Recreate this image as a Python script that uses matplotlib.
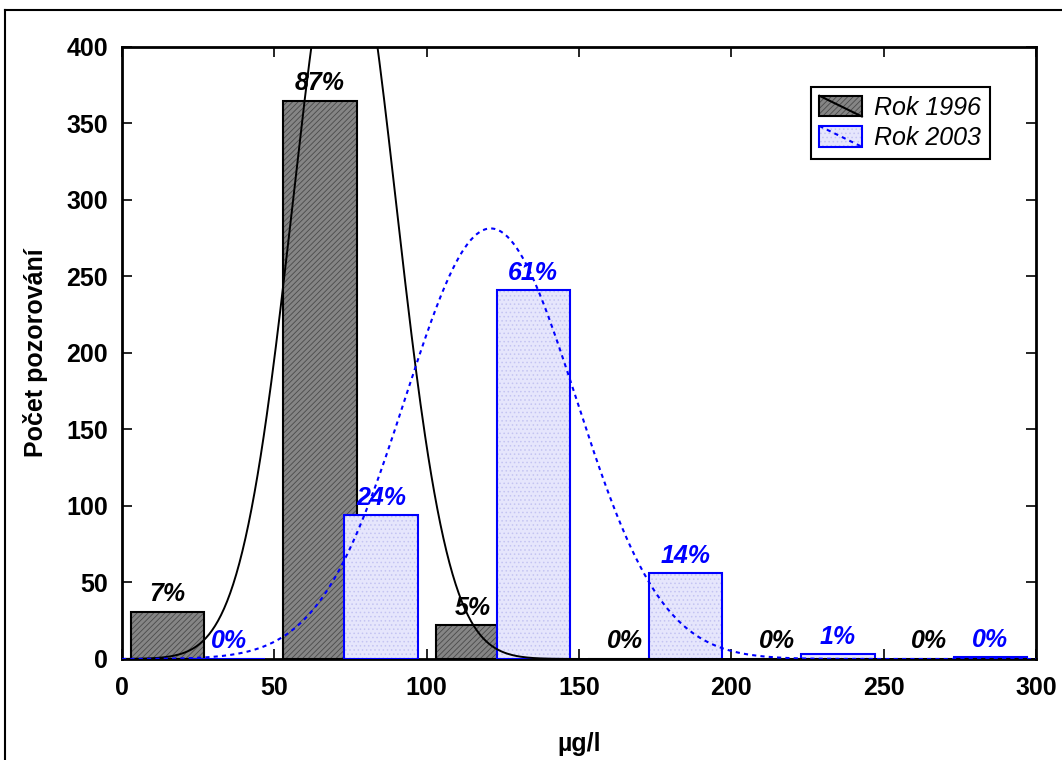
import matplotlib
matplotlib.use('Agg')
import matplotlib.pyplot as plt
import numpy as np
from matplotlib.patches import Rectangle
from matplotlib.lines import Line2D
from matplotlib.legend_handler import HandlerBase

plt.rcParams['font.family'] = ['Liberation Sans', 'DejaVu Sans']
plt.rcParams['hatch.linewidth'] = 0.6

# Data
bin_starts = [0, 50, 100, 150, 200, 250]
bin_width = 50
counts_1996 = [31, 365, 22, 0, 0, 0]
counts_2003 = [0, 94, 241, 56, 3, 1]
pct_1996 = ['7%', '87%', '5%', '0%', '0%', '0%']
pct_2003 = ['0%', '24%', '61%', '14%', '1%', '0%']

# fitted normal curves (mean, sd)
mean_1996, sd_1996 = 73, 17
mean_2003, sd_2003 = 121, 28

series_names = ['Rok 1996', 'Rok 2003']
x_ticks = [0, 50, 100, 150, 200, 250, 300]
y_ticks = [0, 50, 100, 150, 200, 250, 300, 350, 400]

dark_face = '#858585'
dark_hatch = '#4a4a4a'
blue_face = '#e6e6fc'
blue_hatch = '#c4c4f2'
blue = '#0000ff'


def normal_curve(x, n, mu, sd):
    return n * bin_width * np.exp(-(x - mu) ** 2 / (2 * sd ** 2)) / (sd * np.sqrt(2 * np.pi))


class PatchLineHandler(HandlerBase):
    """Legend key: filled rectangle with a diagonal line through it."""
    def __init__(self, face, hatch_col, hatch, edge, line_color, line_style):
        super().__init__()
        self.face, self.hatch_col, self.hatch = face, hatch_col, hatch
        self.edge, self.line_color, self.line_style = edge, line_color, line_style

    def create_artists(self, legend, orig_handle, xdescent, ydescent,
                       width, height, fontsize, trans):
        r1 = Rectangle((-xdescent, -ydescent), width, height, facecolor=self.face,
                       edgecolor=self.hatch_col, hatch=self.hatch, linewidth=0,
                       transform=trans)
        r2 = Rectangle((-xdescent, -ydescent), width, height, fill=False,
                       edgecolor=self.edge, linewidth=1.5, transform=trans)
        ln = Line2D([-xdescent, -xdescent + width], [-ydescent + height, -ydescent],
                    color=self.line_color, linestyle=self.line_style, linewidth=1.5,
                    transform=trans)
        return [r1, r2, ln]


fig = plt.figure(figsize=(10.62, 7.6), dpi=100)
ax = fig.add_axes([0.1149, 0.1329, 0.8606, 0.8053])

x_1996 = [s + 15 for s in bin_starts]
x_2003 = [s + 35 for s in bin_starts]
w = 24

# 1996 bars: hatch pass then outline
ax.bar(x_1996, counts_1996, width=w, color=dark_face, edgecolor=dark_hatch,
       hatch='//////', linewidth=0, zorder=2)
ax.bar(x_1996, counts_1996, width=w, fill=False, edgecolor='black',
       linewidth=1.5, zorder=2)
# 2003 bars
ax.bar(x_2003, counts_2003, width=w, color=blue_face, edgecolor=blue_hatch,
       hatch='....', linewidth=0, zorder=3)
ax.bar(x_2003, counts_2003, width=w, fill=False, edgecolor=blue,
       linewidth=1.5, zorder=3)

# normal fit curves
xs = np.linspace(0, 300, 601)
ax.plot(xs, normal_curve(xs, sum(counts_1996), mean_1996, sd_1996),
        color='black', linewidth=1.4, zorder=4)
ax.plot(xs, normal_curve(xs, sum(counts_2003), mean_2003, sd_2003),
        color=blue, linewidth=1.5, linestyle=(0, (2, 2)), zorder=4)

# percentage labels
for xc, h, t in zip(x_1996, counts_1996, pct_1996):
    ax.annotate(t, (xc, h), xytext=(0, 4), textcoords='offset points',
                ha='center', va='bottom', fontsize=18, fontweight='bold',
                fontstyle='italic', color='black', zorder=5)
for xc, h, t in zip(x_2003, counts_2003, pct_2003):
    ax.annotate(t, (xc, h), xytext=(0, 4), textcoords='offset points',
                ha='center', va='bottom', fontsize=18, fontweight='bold',
                fontstyle='italic', color=blue, zorder=5)

ax.set_xlim(0, 300)
ax.set_ylim(0, 400)
ax.set_xticks(x_ticks)
ax.set_yticks(y_ticks)
ax.tick_params(direction='in', length=7, width=1.2, top=True, right=True,
               labelsize=18)
ax.tick_params(axis='x', pad=12)
ax.tick_params(axis='y', pad=10)
for lab in ax.get_xticklabels() + ax.get_yticklabels():
    lab.set_fontweight('bold')
for sp in ax.spines.values():
    sp.set_linewidth(2)

ax.set_xlabel('µg/l', fontsize=18, fontweight='bold')
ax.set_ylabel('Počet pozorování', fontsize=18, fontweight='bold')
ax.xaxis.set_label_coords(0.5, -0.12)
ax.yaxis.set_label_coords(-0.081, 0.5)

# legend
h1 = Rectangle((0, 0), 1, 1)
h2 = Rectangle((0, 0), 1, 1)
leg = ax.legend([h1, h2], series_names,
                handler_map={h1: PatchLineHandler(dark_face, dark_hatch, '//////', 'black', 'black', '-'),
                             h2: PatchLineHandler(blue_face, blue_hatch, '....', blue, blue, (0, (2, 2)))},
                loc='upper right', bbox_to_anchor=(0.9497, 0.9346), borderaxespad=0,
                prop={'size': 18, 'style': 'italic'}, fancybox=False,
                edgecolor='black', framealpha=1, handlelength=1.7, handleheight=0.9,
                borderpad=0.35, labelspacing=0.25, handletextpad=0.5)
leg.get_frame().set_linewidth(1.5)

# outer frame of the picture
fig.add_artist(Line2D([5 / 1062, 1], [750 / 760, 750 / 760], color='black',
                      linewidth=1.5, transform=fig.transFigure))
fig.add_artist(Line2D([5 / 1062, 5 / 1062], [0, 750 / 760], color='black',
                      linewidth=1.5, transform=fig.transFigure))

fig.savefig('out.png', dpi=100)
plt.close(fig)
